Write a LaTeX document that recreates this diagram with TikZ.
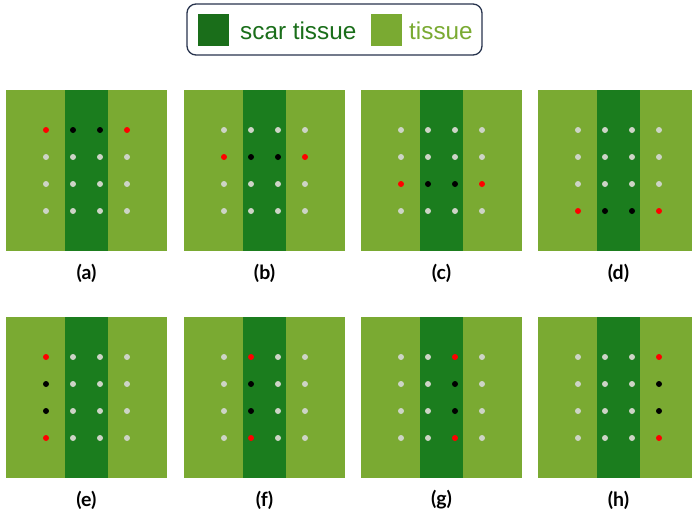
\documentclass[tikz,border=0pt]{standalone}
\usepackage{fontspec}
\setmainfont{Liberation Sans}
\newfontfamily\labfont{Lato Bold}
\definecolor{tissueC}{RGB}{122,170,50}
\definecolor{scarC}{RGB}{27,125,30}
\definecolor{scarL}{RGB}{26,110,26}
\definecolor{dotG}{RGB}{205,212,198}
\definecolor{frameC}{RGB}{40,52,78}
\begin{document}
\begin{tikzpicture}[x=1pt,y=-1pt,
  dot0/.style={circle,fill=dotG,inner sep=0pt,minimum size=6pt},
  dot1/.style={circle,fill=red,inner sep=0pt,minimum size=6pt},
  dot2/.style={circle,fill=black,inner sep=0pt,minimum size=6pt},
  lab/.style={font=\labfont\fontsize{19.5}{22}\selectfont,inner sep=0pt},
  legtext/.style={font=\fontsize{24.3}{28}\selectfont,inner sep=0pt,anchor=base west},
  swatch/.style={inner sep=0pt,minimum width=31pt,minimum height=32pt,anchor=north west}
]
\useasboundingbox (0,0) rectangle (692,512);
\fill[white] (0,0) rectangle (692,512);
% legend
\draw[frameC,line width=1.3pt,rounded corners=9pt] (187,4) rectangle (482,55);
\node[swatch,fill=scarL] (swS) at (198,14) {};
\node[legtext,text=scarL] (txS) at (240,39) {scar tissue};
\node[swatch,fill=tissueC] (swT) at (371,14) {};
\node[legtext,text=tissueC] (txT) at (409,39) {tissue};
% top row
\foreach \px/\lab/\k in {6/a/0,184/b/1,361/c/2,538/d/3}{
  \pgfmathsetmacro\rx{min(\px+161,692)}
  \fill[tissueC] (\px,90) rectangle (\rx,251);
  \fill[scarC] (\px+59,90) rectangle (\px+102,251);
  \node[lab] (lab\lab) at (\px+80.5,273) {(\lab)};
  \foreach \c in {0,1,2,3}{
    \foreach \r in {0,1,2,3}{
      \pgfmathtruncatemacro\t{(\r==\k)*(((\c==0)||(\c==3))?1:2)}
      \node[dot\t] (d\lab\c\r) at (\px+40+27*\c,130+27*\r) {};
    }
  }
}
% bottom row
\foreach \px/\lab/\k in {6/e/0,184/f/1,361/g/2,538/h/3}{
  \pgfmathsetmacro\rx{min(\px+161,692)}
  \fill[tissueC] (\px,317) rectangle (\rx,478);
  \fill[scarC] (\px+59,317) rectangle (\px+102,478);
  \node[lab] (lab\lab) at (\px+80.5,500) {(\lab)};
  \foreach \c in {0,1,2,3}{
    \foreach \r in {0,1,2,3}{
      \pgfmathtruncatemacro\t{(\c==\k)*(((\r==0)||(\r==3))?1:2)}
      \node[dot\t] (d\lab\c\r) at (\px+40+27*\c,357+27*\r) {};
    }
  }
}
\end{tikzpicture}
\end{document}
